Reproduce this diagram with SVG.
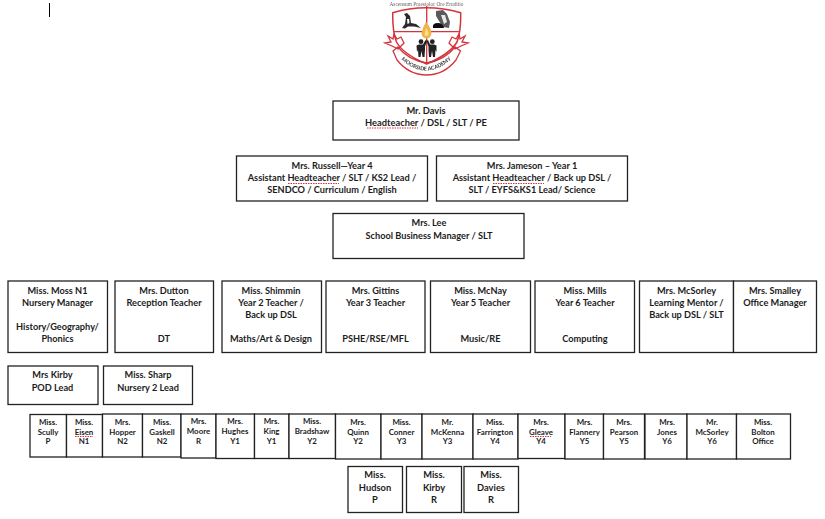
<svg xmlns="http://www.w3.org/2000/svg" width="825" height="519" viewBox="0 0 825 519">
<style>
.b{fill:#fff;stroke:#222;stroke-width:1.3}
text{font-family:"Lato","Liberation Sans",sans-serif;font-weight:700;fill:#1c1c1c;text-anchor:middle}
.m{font-size:9.2px}
.s{font-size:7.9px}
.l{font-size:9.3px}
.r{fill:none;stroke:#d9333f;stroke-width:1;stroke-dasharray:1.5 1}
.red{fill:none;stroke:#d4343c}
</style>
<defs>
<filter id="soft" x="-5%" y="-5%" width="110%" height="110%"><feGaussianBlur stdDeviation="0.35"/></filter>
<path id="arc" d="M397 55Q425 86 456 55"/>
</defs>
<rect width="825" height="519" fill="#fff"/>
<line x1="49.500" y1="3" x2="49.500" y2="17" stroke="#000"/>
<g id="logo" filter="url(#soft)">
<text x="426.500" y="6" style="font-size:5.4px;font-weight:400;fill:#666;font-family:'Liberation Serif',serif">Ascensum Praestolor Ore Eruditio</text>
<path class="red" stroke-width="1.5" fill="#fff" d="M392.700 12.700Q426 3 460.700 12.700Q461 32 457 42Q450 54 426.700 64Q403 54 396.500 42Q392.500 32 392.700 12.700Z"/>
<path class="red" stroke-width="1.3" d="M426.700 6V64M393.500 31.700H460"/>
<path fill="#2a2a2a" d="M402 28L405 24L406 17L404 14L407 13L410 16L411 23L416 24L421 28L414 26.500L408 26.500L405 28.500Z"/>
<path fill="#fff" d="M407 19L409 19L409.500 23L407.500 24Z"/>
<path fill="#5a5a5a" d="M436 11L443 10L447 14L450 22L449 28L443 27L439 21L436 16Z"/>
<path fill="#e8e8e8" d="M441 15L445 15L447 22L444 24Z"/>
<path fill="#111" d="M433 28Q432 23 438 23Q443 23 444 28Z"/>
<path fill="#f2b544" d="M426 22Q431 28 431.500 33Q431 38 426.500 38.500Q422 38 421.500 33.500Q422.500 27 426 22Z"/>
<path fill="#f9dc8c" d="M426.500 28Q429 32 428.500 35Q426.500 37 424.500 35Q424.500 31 426.500 28Z"/>
<g fill="#222">
<circle cx="421" cy="41.700" r="2.400"/><circle cx="432.300" cy="41.700" r="2.400"/>
<path d="M416.500 45.500L419 44.500H423L425.500 40L427 41L425 46.500V50L424.500 57H422.500L421.500 51L420.500 57H418.500L418 50L417 52Z"/>
<path d="M436.500 45.500L434 44.500H430L428 40L426.500 41L428.500 46.500V50L429 57H431L432 51L433 57H435L435.500 50L436.500 52Z"/>
</g>
<path class="red" stroke-width="1.300" fill="#fff" d="M385 43L391 42L388 36L393 39L394 34L397 39L401 37L404 43L398 49L392 46ZM468 43L462 42L465 36L460 39L459 34L456 39L452 37L449 43L455 49L461 46Z"/>
<path class="red" stroke-width="1.300" fill="#fff" d="M393 51L398 47Q408 60 426.700 63Q445 60 455 47L460.500 51L456 60Q444 75 426.700 75Q409 75 397 60Z"/>
<text style="font-size:5.300px;fill:#333"><textPath href="#arc" startOffset="50%">MOORSIDE ACADEMY</textPath></text>
</g>
<g id="connectors"/>
<g id="davis"><rect class="b" x="333" y="101" width="186" height="39"/><text class="l" x="426" y="114">Mr. Davis</text><text class="l" x="426" y="126">Headteacher / DSL / SLT / PE</text><path class="r" d="M367 128H418"/></g>
<g id="russell"><rect class="b" x="236.500" y="156" width="191" height="45"/><text class="m" x="332" y="169">Mrs. Russell—Year 4</text><text class="m" x="332" y="181">Assistant Headteacher / SLT / KS2 Lead /</text><text class="m" x="332" y="193">SENDCO / Curriculum / English</text><path class="r" d="M288 183.500H339"/></g>
<g id="jameson"><rect class="b" x="436.500" y="156" width="191" height="45"/><text class="m" x="532" y="169">Mrs. Jameson – Year 1</text><text class="m" x="532" y="181">Assistant Headteacher / Back up DSL /</text><text class="m" x="532" y="193">SLT / EYFS&amp;KS1 Lead/ Science</text><path class="r" d="M493 183.500H544"/></g>
<g id="lee"><rect class="b" x="333" y="213.500" width="191" height="45"/><text class="m" x="429" y="226">Mrs. Lee</text><text class="m" x="429" y="238.500">School Business Manager / SLT</text></g>
<g id="moss"><rect class="b" x="8" y="281" width="99.500" height="71.500"/><text class="m" x="57.500" y="294">Miss. Moss N1</text><text class="m" x="57.500" y="306">Nursery Manager</text><text class="m" x="57.500" y="330">History/Geography/</text><text class="m" x="57.500" y="342">Phonics</text></g>
<g id="dutton"><rect class="b" x="115" y="281" width="98.500" height="71.500"/><text class="m" x="164" y="294">Mrs. Dutton</text><text class="m" x="164" y="306">Reception Teacher</text><text class="m" x="164" y="342">DT</text></g>
<g id="shimmin"><rect class="b" x="222" y="281" width="99.500" height="71.500"/><text class="m" x="271" y="294">Miss. Shimmin</text><text class="m" x="271" y="306">Year 2 Teacher /</text><text class="m" x="271" y="318">Back up DSL</text><text class="m" x="271" y="342">Maths/Art &amp; Design</text></g>
<g id="gittins"><rect class="b" x="326" y="281" width="99" height="71.500"/><text class="m" x="375.500" y="294">Mrs. Gittins</text><text class="m" x="375.500" y="306">Year 3 Teacher</text><text class="m" x="375.500" y="342">PSHE/RSE/MFL</text></g>
<g id="mcnay"><rect class="b" x="430.500" y="281" width="100" height="71.500"/><text class="m" x="480.500" y="294">Miss. McNay</text><text class="m" x="480.500" y="306">Year 5 Teacher</text><text class="m" x="480.500" y="342">Music/RE</text></g>
<g id="mills"><rect class="b" x="535" y="281" width="99.500" height="71.500"/><text class="m" x="585" y="294">Miss. Mills</text><text class="m" x="585" y="306">Year 6 Teacher</text><text class="m" x="585" y="342">Computing</text></g>
<g id="mcsorley"><rect class="b" x="639.500" y="281" width="94" height="71.500"/><text class="m" x="686.500" y="294">Mrs. McSorley</text><text class="m" x="686.500" y="306">Learning Mentor /</text><text class="m" x="686.500" y="318">Back up DSL / SLT</text></g>
<g id="smalley"><rect class="b" x="733.500" y="281" width="83" height="71.500"/><text class="m" x="775" y="294">Mrs. Smalley</text><text class="m" x="775" y="306">Office Manager</text></g>
<g id="kirby-pod"><rect class="b" x="8" y="366" width="90" height="38.500"/><text class="m" x="52.500" y="378">Mrs Kirby</text><text class="m" x="52.500" y="391">POD Lead</text></g>
<g id="sharp"><rect class="b" x="103.500" y="366" width="89" height="38.500"/><text class="m" x="148" y="378">Miss. Sharp</text><text class="m" x="148" y="391">Nursery 2 Lead</text></g>
<g id="scully"><rect class="b" x="30" y="414.500" width="36.500" height="42.500"/><text class="s" x="48" y="425">Miss.</text><text class="s" x="48" y="435">Scully</text><text class="s" x="48" y="444">P</text></g>
<g id="eisen"><rect class="b" x="66.500" y="414.500" width="36" height="42.500"/><text class="s" x="84" y="425">Miss.</text><text class="s" x="84" y="435">Eisen</text><text class="s" x="84" y="444">N1</text><path class="r" d="M75 436.500H93"/></g>
<g id="hopper"><rect class="b" x="102.500" y="414" width="40" height="43"/><text class="s" x="122.500" y="425">Mrs.</text><text class="s" x="122.500" y="435">Hopper</text><text class="s" x="122.500" y="444">N2</text></g>
<g id="gaskell"><rect class="b" x="142.500" y="414" width="38.500" height="43"/><text class="s" x="162" y="425">Miss.</text><text class="s" x="162" y="435">Gaskell</text><text class="s" x="162" y="444">N2</text></g>
<g id="moore"><rect class="b" x="181" y="414" width="35" height="44"/><text class="s" x="198.500" y="424">Mrs.</text><text class="s" x="198.500" y="434">Moore</text><text class="s" x="198.500" y="444">R</text></g>
<g id="hughes"><rect class="b" x="216" y="414" width="38.500" height="44.500"/><text class="s" x="235" y="424">Mrs.</text><text class="s" x="235" y="434">Hughes</text><text class="s" x="235" y="444">Y1</text></g>
<g id="king"><rect class="b" x="254.500" y="414" width="34.500" height="44.500"/><text class="s" x="271.500" y="424">Mrs.</text><text class="s" x="271.500" y="434">King</text><text class="s" x="271.500" y="444">Y1</text></g>
<g id="bradshaw"><rect class="b" x="289" y="414" width="46.500" height="44.500"/><text class="s" x="312" y="424">Miss.</text><text class="s" x="312" y="434">Bradshaw</text><text class="s" x="312" y="444">Y2</text></g>
<g id="quinn"><rect class="b" x="335.500" y="414" width="45.500" height="45"/><text class="s" x="358" y="425">Mrs.</text><text class="s" x="358" y="435">Quinn</text><text class="s" x="358" y="444">Y2</text></g>
<g id="conner"><rect class="b" x="381" y="414" width="41" height="45"/><text class="s" x="401.500" y="425">Miss.</text><text class="s" x="401.500" y="435">Conner</text><text class="s" x="401.500" y="444">Y3</text></g>
<g id="mckenna"><rect class="b" x="422" y="414" width="51" height="45"/><text class="s" x="447.500" y="425">Mr.</text><text class="s" x="447.500" y="435">McKenna</text><text class="s" x="447.500" y="444">Y3</text></g>
<g id="farrington"><rect class="b" x="473" y="414" width="45" height="45"/><text class="s" x="495" y="425">Miss.</text><text class="s" x="495" y="435">Farrington</text><text class="s" x="495" y="444">Y4</text></g>
<g id="gleave"><rect class="b" x="518" y="414" width="47" height="44.500"/><text class="s" x="541" y="425">Mrs.</text><text class="s" x="541" y="435">Gleave</text><text class="s" x="541" y="444">Y4</text><path class="r" d="M530 436.500H551"/></g>
<g id="flannery"><rect class="b" x="565" y="414" width="38.500" height="45"/><text class="s" x="584.500" y="425">Mrs.</text><text class="s" x="584.500" y="435">Flannery</text><text class="s" x="584.500" y="444">Y5</text></g>
<g id="pearson"><rect class="b" x="603.500" y="414" width="41" height="45"/><text class="s" x="624" y="425">Mrs.</text><text class="s" x="624" y="435">Pearson</text><text class="s" x="624" y="444">Y5</text></g>
<g id="jones"><rect class="b" x="645" y="414" width="42" height="45"/><text class="s" x="667" y="425">Mrs.</text><text class="s" x="667" y="435">Jones</text><text class="s" x="667" y="444">Y6</text></g>
<g id="mcsorley-y6"><rect class="b" x="687" y="414" width="49.500" height="45"/><text class="s" x="712" y="425">Mr.</text><text class="s" x="712" y="435">McSorley</text><text class="s" x="712" y="444">Y6</text></g>
<g id="bolton"><rect class="b" x="736.500" y="414" width="54" height="45"/><text class="s" x="763" y="425">Miss.</text><text class="s" x="763" y="435">Bolton</text><text class="s" x="763" y="444">Office</text></g>
<g id="hudson"><rect class="b" x="348" y="466.500" width="54.500" height="46"/><text class="l" x="375" y="478">Miss.</text><text class="l" x="375" y="491">Hudson</text><text class="l" x="375" y="503">P</text></g>
<g id="kirby-r"><rect class="b" x="406.500" y="466.500" width="55" height="46"/><text class="l" x="434" y="478">Miss.</text><text class="l" x="434" y="491">Kirby</text><text class="l" x="434" y="503">R</text></g>
<g id="davies"><rect class="b" x="464" y="466.500" width="54.500" height="46"/><text class="l" x="491" y="478">Miss.</text><text class="l" x="491" y="491">Davies</text><text class="l" x="491" y="503">R</text></g>
</svg>
